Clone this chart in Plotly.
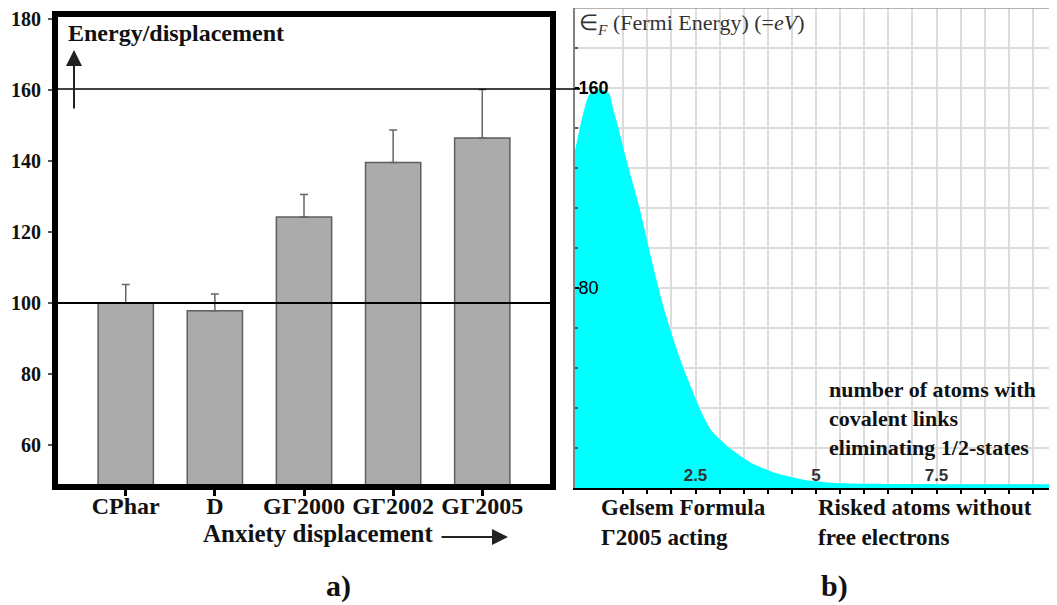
import plotly.graph_objects as go

# the page body adds an 8px margin, so the figure is drawn 8px smaller
# and every pixel position below is measured on the 1057x605 screenshot
OFF = 8
W, H = 1057 - OFF, 605 - OFF

# panel a) bars
groups = ["CPhar", "D", "G\u03932000", "G\u03932002", "G\u03932005"]
energy = [100, 97.8, 124.2, 139.5, 146.4]
err_up = [5.2, 4.7, 6.3, 9.2, 13.7]
a_ticks = [60, 80, 100, 120, 140, 160, 180]

# panel b) fermi energy curve
atoms = [0, 0.1, 0.2, 0.3, 0.5, 0.7, 0.8, 0.9, 1.07, 1.3, 1.46, 1.63, 1.8, 2.0,
         2.25, 2.5, 2.63, 2.83, 3.18, 3.66, 4.16, 4.78, 5.4, 6, 7, 8, 9, 10]
fermi = [135, 144, 152, 157.5, 159.5, 158, 151, 144, 131, 115, 102, 88, 75, 62,
         48, 36, 30, 23, 16.4, 10, 6, 3.2, 2, 1.7, 1.6, 1.5, 1.5, 1.5]
b_xticks = [2.5, 5, 7.5]
b_yticks = [80, 160]


def px(x):
    return min(max((x - OFF) / W, 0), 1)


def py(y):
    return min(max(1 - (y - OFF) / H, 0), 1)


serif = "Liberation Serif"
sans = "Liberation Sans"

fig = go.Figure()

fig.add_trace(go.Bar(
    x=groups, y=energy, width=0.62,
    marker=dict(color="#ababab", line=dict(color="#5f5f5f", width=1.5)),
    error_y=dict(type="data", array=err_up, arrayminus=[0] * len(err_up),
                 symmetric=False, color="#666666", thickness=1.5, width=4),
    xaxis="x", yaxis="y", showlegend=False,
))

fig.add_trace(go.Scatter(
    x=atoms, y=fermi, mode="lines", line=dict(width=0, shape="spline", smoothing=0.6),
    fill="tozeroy", fillcolor="#00ffff", xaxis="x2", yaxis="y2", showlegend=False,
))

grid = "#dcdcdc"
fig.update_layout(
    width=W, height=H, margin=dict(l=0, r=0, t=0, b=0),
    paper_bgcolor="white", plot_bgcolor="white",
    xaxis=dict(domain=[px(58), px(550)], range=[-0.76, 4.76], showgrid=False,
               automargin=False,
               tickvals=groups, ticktext=["<b>%s</b>" % g for g in groups],
               showline=True, linewidth=6, linecolor="black", mirror=True,
               ticks="outside", ticklen=6, tickwidth=3, tickcolor="black",
               ticklabelstandoff=-11,
               tickfont=dict(family=serif, size=24, color="#111"), zeroline=False),
    yaxis=dict(domain=[py(484), py(17)], range=[49, 180.5], tickvals=a_ticks,
               automargin=False,
               ticktext=["<b>%d</b>" % t for t in a_ticks], showgrid=False,
               showline=True, linewidth=6, linecolor="black", mirror=True,
               ticks="outside", ticklen=4, tickwidth=1.5, tickcolor="#555",
               ticklabelstandoff=3, ticklabeloverflow="allow",
               tickfont=dict(family=serif, size=20, color="#111"), zeroline=False),
    xaxis2=dict(domain=[px(575), 1], range=[0, 10], anchor="y2", automargin=False,
                tickvals=b_xticks, ticktext=["<b>%g</b>" % t for t in b_xticks],
                ticklabelposition="inside", ticklabelstandoff=4,
                showgrid=True, gridcolor=grid, gridwidth=1.5,
                ticks="outside", ticklen=4, tickwidth=1.5, tickcolor="black",
                minor=dict(dtick=0.5, showgrid=True, gridcolor=grid, gridwidth=1.5,
                           ticks="outside", ticklen=4, tickwidth=1.5, tickcolor="black"),
                showline=True, linewidth=2, linecolor="black", zeroline=False,
                tickfont=dict(family=sans, size=17, color="#333")),
    yaxis2=dict(domain=[py(488), py(8)], range=[0, 192], anchor="x2", automargin=False,
                tickvals=b_yticks, ticktext=["80", "<b>160</b>"],
                ticklabelposition="inside", showgrid=True, gridcolor=grid, gridwidth=1.5,
                ticks="inside", ticklen=4, tickwidth=2, tickcolor="black",
                minor=dict(dtick=16, showgrid=True, gridcolor=grid, gridwidth=1.5,
                           ticks="inside", ticklen=3, tickwidth=1.5, tickcolor="#555"),
                showline=True, linewidth=2, linecolor="#8a7f7f", zeroline=False,
                tickfont=dict(family=sans, size=18, color="black")),
)

shapes = [
    dict(type="line", xref="x domain", yref="y", x0=0, x1=1, y0=100, y1=100,
         line=dict(color="black", width=2)),
    dict(type="line", xref="paper", yref="paper", x0=px(52), x1=px(580), y0=py(89), y1=py(89),
         line=dict(color="black", width=1.5)),
    dict(type="line", xref="x2 domain", yref="y2 domain", x0=0, x1=1, y0=1, y1=1,
         line=dict(color="#9a9a9a", width=1.5)),
    dict(type="line", xref="x2 domain", yref="y2 domain", x0=1, x1=1, y0=0, y1=1,
         line=dict(color="#9a9a9a", width=2)),
]
fig.update_layout(shapes=shapes)


def label(text, x, y, size=20, family=serif, xanchor="left", color="#111"):
    fig.add_annotation(text=text, x=px(x), y=py(y), xref="paper", yref="paper",
                       xanchor=xanchor, yanchor="middle", showarrow=False,
                       font=dict(family=family, size=size, color=color))


def arrow(x0, y0, x1, y1):
    # head at (x1, y1), tail offset in pixels
    fig.add_annotation(text="", x=px(x1), y=py(y1), ax=x0 - x1, ay=y0 - y1,
                       xref="paper", yref="paper", axref="pixel", ayref="pixel",
                       showarrow=True, arrowhead=2, arrowsize=1.6, arrowwidth=2,
                       arrowcolor="#222")


label("<b>Energy/displacement</b>", 66, 33, size=24)
arrow(74, 110, 74, 50)
label("<b>Anxiety displacement</b>", 201, 533, size=25)
arrow(440, 537, 508, 537)
label("<b>a)</b>", 338, 586, size=30, xanchor="center")

label("\u2208<i><sub>F</sub></i> (Fermi Energy) (=<i>eV</i>)", 577, 24, size=22, color="#333")
label("<b>number of atoms with</b>", 827, 389, size=22)
label("<b>covalent links</b>", 827, 418, size=22)
label("<b>eliminating 1/2-states</b>", 827, 447, size=22)
label("<b>Gelsem Formula</b>", 599, 507, size=23)
label("<b>\u03932005 acting</b>", 599, 537, size=23)
label("<b>Risked atoms without</b>", 816, 507, size=23)
label("<b>free electrons</b>", 816, 537, size=23)
label("<b>b)</b>", 834, 586, size=30, xanchor="center")

fig.write_html("out.html")
